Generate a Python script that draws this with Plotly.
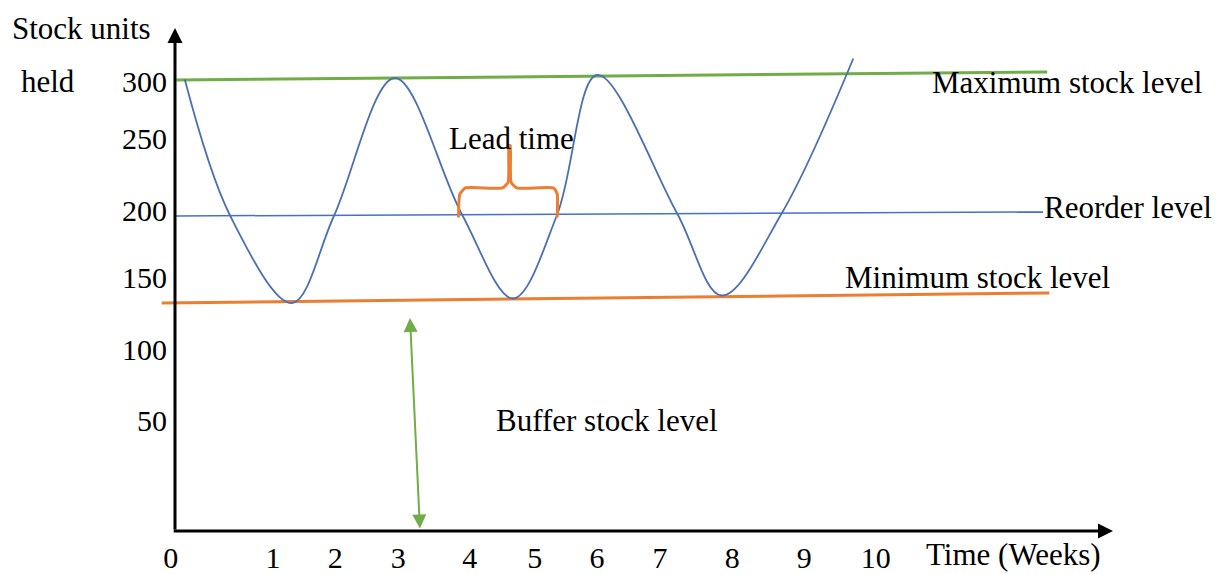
import plotly.graph_objects as go

# ---------------- data ----------------
# Stock held over time (weeks, units) – peaks, troughs and reorder-level crossings
stock_weeks = [0.14, 0.79, 1.67, 2.27, 3.14, 4.10, 4.83, 5.46, 6.03, 7.17, 7.81, 8.67, 9.69]
stock_units = [301, 210, 152, 210, 302, 211, 155, 211, 304, 212, 157, 212, 315]

# Reference levels (slightly sloping hand-drawn lines)
max_weeks = [0.02, 12.46]
max_units = [300.7, 306.0]
reorder_weeks = [0.0, 12.40]
reorder_units = [210.0, 212.7]
min_weeks = [-0.19, 12.49]
min_units = [152.0, 158.7]

# Tick labels (the drawing is not to scale, so labels sit where they were drawn)
x_tick_labels = ["0", "1", "2", "3", "4", "5", "6", "7", "8", "9", "10"]
x_tick_pos = [-0.06, 1.40, 2.29, 3.19, 4.21, 5.14, 6.03, 6.93, 7.96, 8.99, 10.01]
y_tick_labels = ["50", "100", "150", "200", "250", "300"]
y_tick_pos = [74, 121, 169, 214, 262, 300]

# Buffer stock arrow (weeks, units)
buffer_weeks = [3.50, 3.357]
buffer_units = [0.7, 142]

# Lead time brace: from the reorder crossing going down to the one going up
lead_start = stock_weeks[5]
lead_end = stock_weeks[7]
brace_foot, brace_shoulder, brace_top = 209, 228.7, 257

# axis extents
x_axis_end = 13.4
y_axis_end = 335.3

# ---------------- styling ----------------
FONT = "Liberation Serif, Times New Roman, serif"
FS = 31
BLUE = "#4472C4"
CURVE = "#4A6FB3"
GREEN = "#70AD47"
ORANGE = "#ED7D31"

fig = go.Figure()

# reference lines
fig.add_trace(go.Scatter(x=max_weeks, y=max_units, mode="lines",
                         line=dict(color=GREEN, width=3), hoverinfo="skip"))
fig.add_trace(go.Scatter(x=reorder_weeks, y=reorder_units, mode="lines",
                         line=dict(color=BLUE, width=1.5), hoverinfo="skip"))
fig.add_trace(go.Scatter(x=min_weeks, y=min_units, mode="lines",
                         line=dict(color=ORANGE, width=3), hoverinfo="skip"))

# stock curve
fig.add_trace(go.Scatter(x=stock_weeks, y=stock_units, mode="lines",
                         line=dict(color=CURVE, width=1.8, shape="spline", smoothing=1.0),
                         hoverinfo="skip"))

# lead time brace
mid = (lead_start + lead_end) / 2
brace_x = [lead_start - 0.05, lead_start - 0.03, lead_start + 0.05, mid - 0.1, mid - 0.02, mid - 0.01,
           mid, mid + 0.01, mid + 0.02, mid + 0.1, lead_end - 0.05, lead_end + 0.0, lead_end + 0.0]
brace_y = [brace_foot, brace_shoulder - 4, brace_shoulder, brace_shoulder, brace_shoulder + 4, brace_top,
           brace_top, brace_top, brace_shoulder + 4, brace_shoulder, brace_shoulder, brace_shoulder - 4, brace_foot]
fig.add_trace(go.Scatter(x=brace_x[:7], y=brace_y[:7], mode="lines",
                         line=dict(color=ORANGE, width=3, shape="spline", smoothing=0.5),
                         hoverinfo="skip"))
fig.add_trace(go.Scatter(x=brace_x[6:], y=brace_y[6:], mode="lines",
                         line=dict(color=ORANGE, width=3, shape="spline", smoothing=0.5),
                         hoverinfo="skip"))

annotations = []
# axes with arrow heads
annotations.append(dict(x=0, y=y_axis_end, ax=0, ay=0, xref="x", yref="y", axref="x", ayref="y",
                        text="", showarrow=True, arrowhead=2, arrowsize=1, arrowwidth=3,
                        arrowcolor="black"))
annotations.append(dict(x=x_axis_end, y=0, ax=-0.04, ay=0, xref="x", yref="y", axref="x", ayref="y",
                        text="", showarrow=True, arrowhead=2, arrowsize=1, arrowwidth=3,
                        arrowcolor="black"))
# buffer stock double arrow
annotations.append(dict(x=buffer_weeks[1], y=buffer_units[1], ax=buffer_weeks[0], ay=buffer_units[0],
                        xref="x", yref="y", axref="x", ayref="y", text="", showarrow=True,
                        arrowhead=2, startarrowhead=2, arrowside="end+start",
                        arrowsize=1.4, startarrowsize=1.4, arrowwidth=2, arrowcolor=GREEN))

tf = dict(family=FONT, size=FS, color="black")
tickf = dict(family=FONT, size=30, color="black")
texts = [
    ("Stock units", -2.357, 335.3, "left"),
    ("held", -2.229, 300.0, "left"),
    ("Lead time", 4.80, 262.0, "center"),
    ("Maximum stock level", 10.786, 298.7, "left"),
    ("Reorder level", 12.386, 216.0, "left"),
    ("Minimum stock level", 9.543, 168.7, "left"),
    ("Buffer stock level", 4.557, 74.0, "left"),
    ("Time (Weeks)", 10.70, -15.5, "left"),
]
for t, x, y, xa in texts:
    annotations.append(dict(x=x, y=y, xref="x", yref="y", text=t, showarrow=False,
                            xanchor=xa, yanchor="middle", font=tf))

fig.update_layout(
    width=1225, height=574,
    margin=dict(l=0, r=0, t=0, b=0),
    paper_bgcolor="white", plot_bgcolor="white",
    showlegend=False,
    annotations=annotations,
    xaxis=dict(range=[-2.5, 15], showgrid=False, zeroline=False, showline=False,
               tickmode="array", tickvals=x_tick_pos, ticktext=x_tick_labels, ticks="",
               ticklabelstandoff=6,
               anchor="free", position=43 / 574, tickfont=tickf, automargin=False, fixedrange=True),
    yaxis=dict(range=[-28.667, 354], showgrid=False, zeroline=False, showline=False,
               tickmode="array", tickvals=y_tick_pos, ticktext=y_tick_labels, ticks="",
               ticklabelstandoff=8,
               anchor="free", position=175 / 1225, tickfont=tickf, automargin=False, fixedrange=True),
)

fig.write_html("out.html", config={"displayModeBar": False},
               post_script="document.body.style.margin='0';document.body.style.overflow='hidden';")
